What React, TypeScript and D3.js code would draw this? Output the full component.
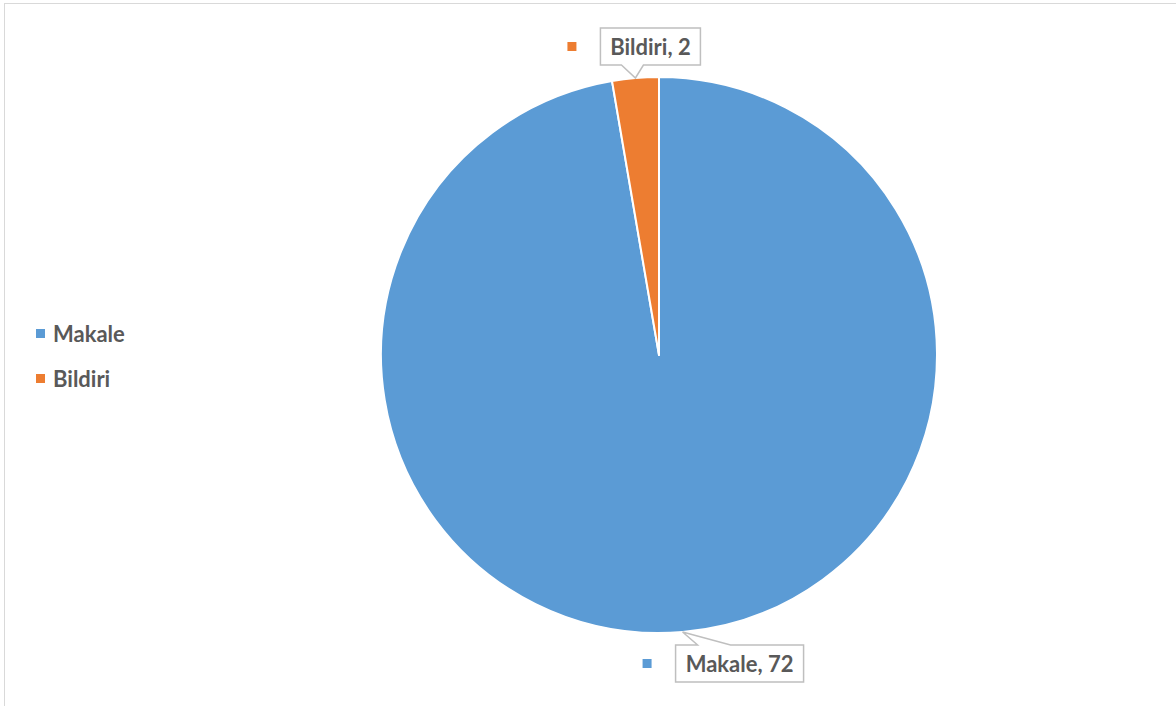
import React from "react";
import * as d3 from "d3";

const categories = ["Makale", "Bildiri"];
const values = [72, 2];
const colors = ["#5B9BD5", "#ED7D31"];

const W = 1176;
const H = 706;
const FONT = "Lato, 'Open Sans', sans-serif";
const TEXT = "#595959";

export default function App() {
  const cx = 659;
  const cy = 355;
  const r = 278;
  const pie = d3.pie<number>().sort(null).value((d) => d);
  const arcs = pie(values);
  const arcGen = d3.arc<d3.PieArcDatum<number>>().innerRadius(0).outerRadius(r);

  // label box geometry (relative to anchor on arc edge)
  const boxes = [
    { dx: -7, dy: 13, w: 128, h: 37, ptL: 15, ptR: 48, text: `${categories[0]}, ${values[0]}`, below: true },
    { dx: -35, dy: -50, w: 100, h: 37, ptL: -14, ptR: 8, text: `${categories[1]}, ${values[1]}`, below: false },
  ];

  return (
    <svg
      width={W}
      height={H}
      style={{ position: "absolute", left: 0, top: 0, background: "#fff" }}
      fontFamily={FONT}
    >
      <rect x={4.5} y={3.5} width={W + 20} height={H + 20} fill="#fff" stroke="#d9d9d9" strokeWidth={1} />
      <g transform={`translate(${cx},${cy})`}>
        {arcs.map((a, i) => (
          <path key={i} d={arcGen(a) || ""} fill={colors[i]} stroke="#fff" strokeWidth={2} strokeLinejoin="round" />
        ))}
      </g>
      {arcs.map((a, i) => {
        const mid = (a.startAngle + a.endAngle) / 2;
        const ax = cx + r * Math.sin(mid);
        const ay = cy - r * Math.cos(mid);
        const b = boxes[i];
        const bx = ax + b.dx;
        const by = ay + b.dy;
        const pts = [
          [bx, by],
          ...(b.below
            ? [
                [ax + b.ptL, by],
                [ax, ay],
                [ax + b.ptR, by],
              ]
            : []),
          [bx + b.w, by],
          [bx + b.w, by + b.h],
          ...(!b.below
            ? [
                [ax + b.ptR, by + b.h],
                [ax, ay],
                [ax + b.ptL, by + b.h],
              ]
            : []),
          [bx, by + b.h],
        ];
        return (
          <g key={`l${i}`}>
            <path
              d={"M" + pts.map((p) => `${p[0]},${p[1]}`).join("L") + "Z"}
              fill="#fff"
              stroke="#bfbfbf"
              strokeWidth={1.5}
            />
            <text x={bx + b.w / 2} y={by + b.h / 2 + 8.5} textAnchor="middle" fontSize={22} fontWeight={700} fill={TEXT}>
              {b.text}
            </text>
            <rect x={bx - 33} y={by + 14} width={9} height={9} fill={colors[i]} />
          </g>
        );
      })}
      {categories.map((c, i) => (
        <g key={`lg${i}`} transform={`translate(36,${329 + i * 45})`}>
          <rect x={0} y={0} width={9} height={9} fill={colors[i]} />
          <text x={17} y={12.5} fontSize={22} fontWeight={700} fill={TEXT}>
            {c}
          </text>
        </g>
      ))}
    </svg>
  );
}
